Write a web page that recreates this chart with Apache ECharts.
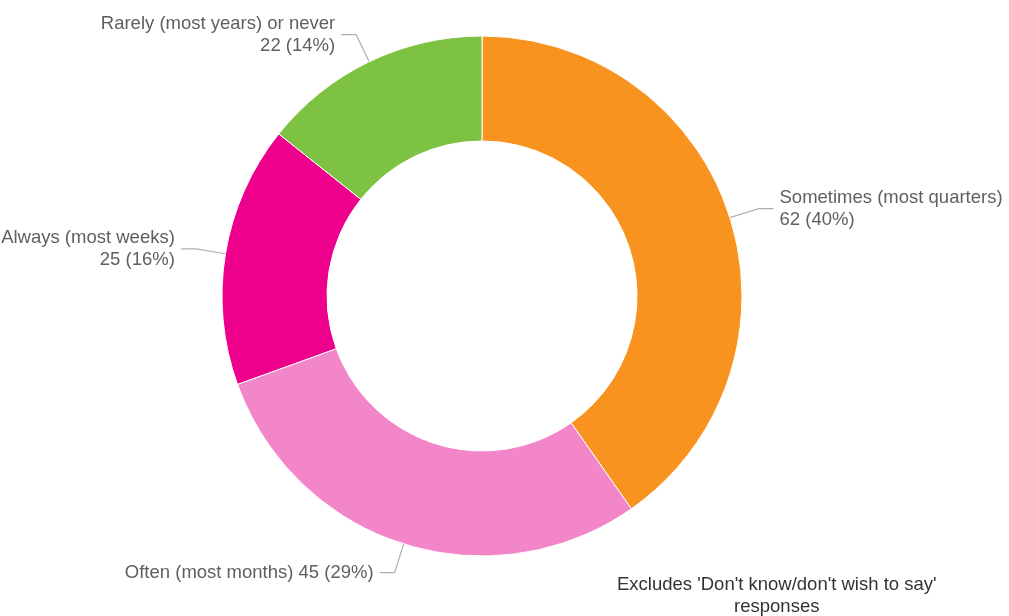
<!DOCTYPE html>
<html>
<head>
<meta charset="utf-8">
<script src="https://cdn.jsdelivr.net/npm/echarts@6/dist/echarts.min.js"></script>
<style>html,body{margin:0;padding:0;background:#fff}#c{width:1009px;height:616px}</style>
</head>
<body>
<div id="c"></div>
<script>
const categories = ['Sometimes (most quarters)', 'Often (most months)', 'Always (most weeks)', 'Rarely (most years) or never'];
const values = [62, 45, 25, 22];
const colors = ['#F7931E', '#F386C8', '#EC008C', '#7DC242'];
const singleLine = [false, true, false, false];
const footnote = "Excludes 'Don't know/don't wish to say'\nresponses";

const total = values.reduce((a, b) => a + b, 0);
const chart = echarts.init(document.getElementById('c'));
chart.setOption({
  animation: false,
  series: [{
    type: 'pie',
    center: [482, 296],
    radius: [155, 260],
    startAngle: 90,
    clockwise: true,
    avoidLabelOverlap: false,
    itemStyle: { borderColor: '#fff', borderWidth: 1 },
    label: {
      show: true,
      position: 'outside',
      fontFamily: 'Liberation Sans, Arial, sans-serif',
      fontSize: 18.5,
      lineHeight: 22,
      color: '#5f5f5f',
      distanceToLabelLine: 6,
      formatter: p => {
        const pct = Math.round(p.value / total * 100);
        return p.name + (singleLine[p.dataIndex] ? ' ' : '\n') + p.value + ' (' + pct + '%)';
      }
    },
    labelLine: {
      show: true,
      length: 30,
      length2: 15,
      lineStyle: { color: '#b0b0b0', width: 1.2 }
    },
    data: categories.map((c, i) => ({ name: c, value: values[i], itemStyle: { color: colors[i] } }))
  }],
  graphic: [{
    type: 'text',
    left: 617,
    top: 574,
    style: {
      text: footnote,
      textAlign: 'center',
      font: '18.5px "Liberation Sans", Arial, sans-serif',
      lineHeight: 22,
      fill: '#333'
    }
  }]
});
</script>
</body>
</html>
